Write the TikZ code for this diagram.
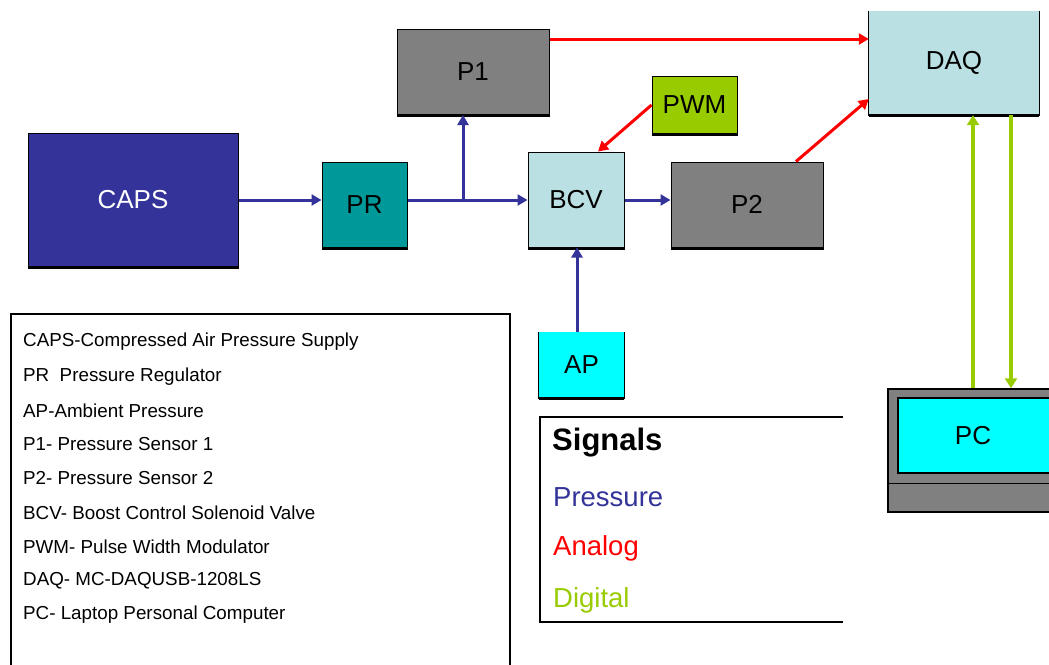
\documentclass[tikz,border=0pt]{standalone}
\usepackage{fontspec}
\setmainfont{Liberation Sans}
\usetikzlibrary{arrows.meta}
\definecolor{navy}{HTML}{333399}
\definecolor{tealc}{HTML}{009999}
\definecolor{grayc}{HTML}{808080}
\definecolor{limec}{HTML}{99CC00}
\definecolor{lblue}{HTML}{BBE0E3}
\definecolor{cyanc}{HTML}{00FFFF}
\definecolor{redc}{HTML}{FF0000}
\tikzset{
  box/.style={draw=black, line width=1pt, inner sep=0pt, font=\fontsize{26}{30}\selectfont},
  opentop/.style={inner sep=0pt, font=\fontsize{26}{30}\selectfont},
  press/.style={draw=navy, line width=3pt, -{Triangle[length=10pt,width=11pt]}},
  analog/.style={draw=redc, line width=3pt, -{Triangle[length=10pt,width=11pt]}},
  digital/.style={draw=limec, line width=4pt, -{Triangle[length=10pt,width=12pt]}},
  legtext/.style={anchor=west, inner sep=0pt, font=\fontsize{18.8}{22}\selectfont},
  sigtext/.style={anchor=west, inner sep=0pt, font=\fontsize{27.5}{32}\selectfont},
}
\begin{document}
\begin{tikzpicture}[x=1pt,y=-1pt]
\useasboundingbox (0,0) rectangle (1049,664);
\clip (0,0) rectangle (1049,664);
\fill[white] (0,0) rectangle (1049,664);

% blocks
\node[box, fill=navy, text=white, minimum width=210pt, minimum height=133pt] (caps) at (133,200) {CAPS};
\node[box, fill=tealc, minimum width=85pt, minimum height=85pt] (pr) at (364.5,205) {PR};
\node[box, fill=grayc, minimum width=152pt, minimum height=85pt] (p1) at (473,72) {P1};
\node[box, fill=limec, minimum width=85pt, minimum height=57pt] (pwm) at (694.5,104.5) {PWM};
\node[box, fill=lblue, minimum width=96pt, minimum height=95pt] (bcv) at (576,199.5) {BCV};
\node[box, fill=grayc, minimum width=152pt, minimum height=85pt] (p2) at (747,204.5) {P2};
\node[opentop, fill=lblue, minimum width=170pt, minimum height=104pt] (daq) at (954,63) {DAQ};
\draw[line width=1pt] (daq.north west) -- (daq.south west) -- (daq.south east) -- (daq.north east);
\node[opentop, fill=cyanc, minimum width=85pt, minimum height=66pt] (ap) at (581.5,365) {AP};
\draw[line width=1pt] (ap.north west) -- (ap.south west) -- (ap.south east) -- (ap.north east);

\foreach \n in {caps,pr,p1,pwm,bcv,p2,daq,ap}
  \draw[line width=3pt] ([yshift=-0.5pt]\n.south west) -- ([yshift=-0.5pt]\n.south east);

% PC laptop
\node[draw=black, line width=1.5pt, fill=grayc, minimum width=180pt, minimum height=123pt, inner sep=0pt] (pcouter) at (978,450.5) {};
\node[draw=black, line width=1.5pt, fill=cyanc, minimum width=170pt, minimum height=75pt, inner sep=0pt] (pc) at (983,435.5) {};
\node[inner sep=0pt, font=\fontsize{26}{30}\selectfont] (pclabel) at (973,435.5) {PC};
\draw[line width=1pt] (pcouter.west |- 0,483) coordinate (sepl) -- (pcouter.east |- sepl);

% pressure connectors
\coordinate (j) at (463,200);
\draw[press] (caps.east) -- (caps.east -| pr.west);
\draw[line width=3pt, navy] (pr.east |- j) -- (j);
\draw[press] (j) -- (bcv.west |- j);
\draw[press] (j) -- (j |- p1.south);
\draw[press] (bcv.east |- 0,200) -- (p2.west |- 0,200);
\draw[press] (ap.north -| 577,0) -- (bcv.south -| 577,0);

% analog connectors
\draw[analog] (p1.east |- 0,39) -- (daq.west |- 0,39);
\draw[analog] (pwm.west |- 0,105) -- (bcv.north -| 598,0);
\draw[analog] (p2.north -| 796,0) -- (daq.west |- 0,99);

% digital connectors
\draw[digital] (pcouter.north -| 973,0) -- (daq.south -| 973,0);
\draw[digital] (daq.south -| 1011,0) -- (pcouter.north -| 1011,0);

% legend box
\node[draw=black, line width=1.5pt, minimum width=499pt, minimum height=370pt, inner sep=0pt] (legend) at (260.5,499) {};
\node[legtext] (l1) at (23,342) {CAPS-Compressed Air Pressure Supply};
\node[legtext] (l2) at (23,376.5) {PR \ Pressure Regulator};
\node[legtext] (l3) at (23,410.5) {AP-Ambient Pressure};
\node[legtext] (l4) at (23,444.5) {P1- Pressure Sensor 1};
\node[legtext] (l5) at (23,478.5) {P2- Pressure Sensor 2};
\node[legtext] (l6) at (23,512.5) {BCV- Boost Control Solenoid Valve};
\node[legtext] (l7) at (23,546.5) {PWM- Pulse Width Modulator};
\node[legtext] (l8) at (23,580.5) {DAQ- MC-DAQUSB-1208LS};
\node[legtext] (l9) at (23,614.5) {PC- Laptop Personal Computer};

% signals box
\draw[line width=2pt] (843,417) -- (540,417) -- (540,622) -- (843,622);
\node[sigtext, font=\bfseries\fontsize{31}{36}\selectfont] (sg) at (552,443) {Signals};
\node[sigtext, text=navy] (sp) at (553,497) {Pressure};
\node[sigtext, text=redc] (sa) at (553,548) {Analog};
\node[sigtext, text=limec] (sd) at (553,600) {Digital};
\end{tikzpicture}
\end{document}
